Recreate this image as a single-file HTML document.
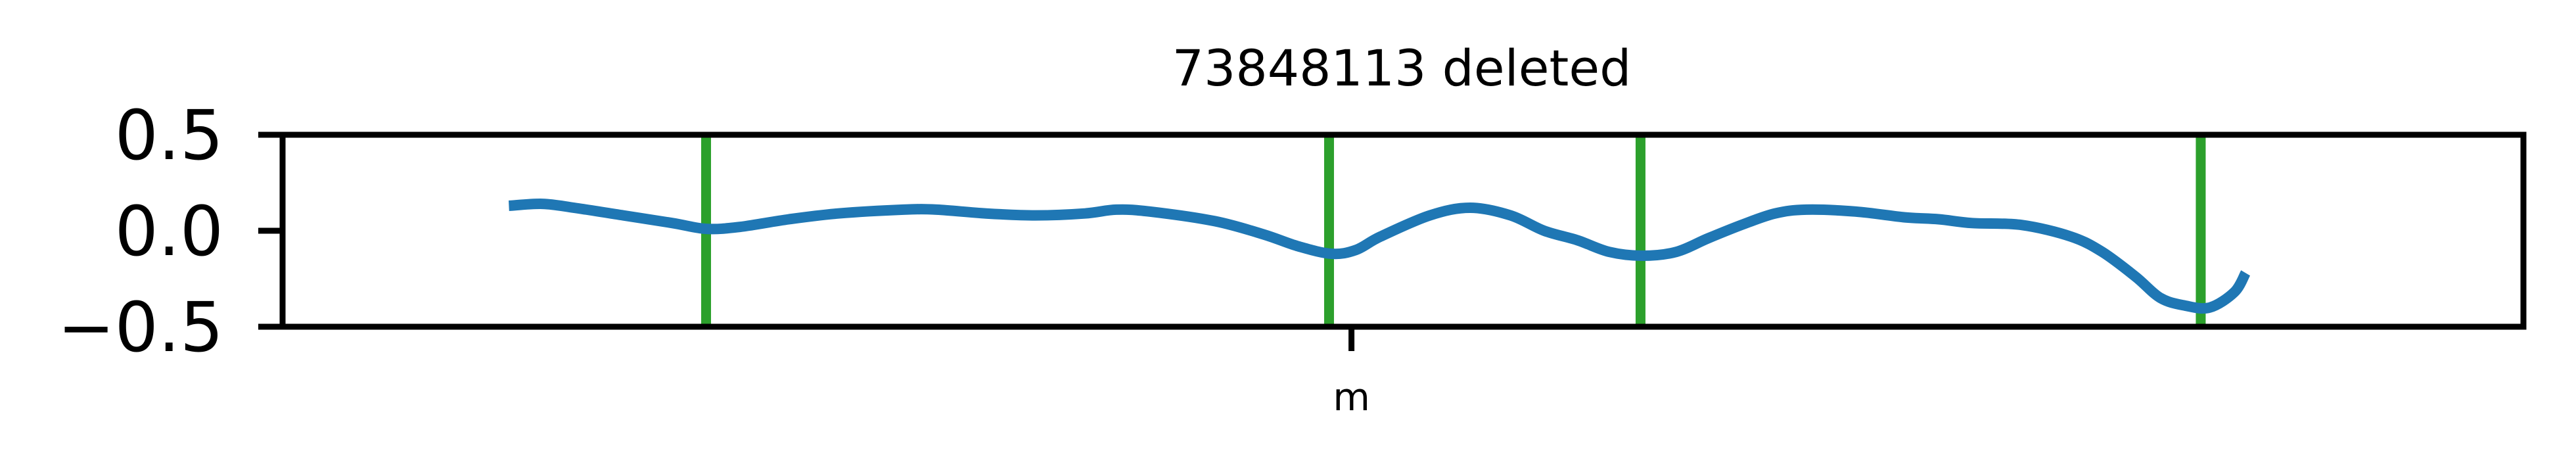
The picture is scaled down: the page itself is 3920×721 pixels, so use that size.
<!DOCTYPE html>
<html><head><meta charset="utf-8"><style>
html,body{margin:0;padding:0;background:#fff;}
svg{display:block;font-family:"DejaVu Sans","Liberation Sans",sans-serif;}
</style></head><body>
<svg id="chart" width="3920" height="721" viewBox="0 0 3920 721" xmlns="http://www.w3.org/2000/svg">
<rect width="3920" height="721" fill="#fff"/>
<text x="2133" y="130" font-size="76" text-anchor="middle">73848113 deleted</text>
<g id="plot"></g>
</svg>
<script>
const xs = [10.1,11.6,13.0,15.2,17.4,18.9,20.4,22.6,24.8,27.7,29.2,31.4,33.6,35.8,37.2,38.7,41.6,43.8,45.3,46.8,47.9,49.0,51.2,53.0,54.8,56.3,57.8,59.2,60.7,62.2,63.6,65.1,66.6,68.0,70.2,72.4,73.9,75.4,77.6,79.8,81.2,82.7,83.8,84.9,86.0,87.1,87.6];
const ys = [0.13,0.14,0.12,0.08,0.04,0.01,0.02,0.06,0.09,0.11,0.11,0.09,0.08,0.09,0.11,0.10,0.05,-0.02,-0.08,-0.12,-0.10,-0.03,0.08,0.12,0.08,0.00,-0.05,-0.11,-0.13,-0.11,-0.04,0.03,0.09,0.11,0.10,0.07,0.06,0.04,0.03,-0.03,-0.11,-0.24,-0.35,-0.39,-0.40,-0.32,-0.22];
const markers = [18.9,46.7,60.6,85.6];
const yTicks = [0.5,0.0,-0.5];
const yTickLabels = ["0.5","0.0","\u22120.5"];
const xTicks = [47.7];
const xTickLabels = ["m"];

const L=430,R=3840,T=205,B=497;
const X=v=>L+(v-0)/(100-0)*(R-L);
const Y=v=>B-(v-(-0.5))/(1)*(B-T);
const NS="http://www.w3.org/2000/svg";
const g=document.getElementById('plot');
function mk(tag,attrs){const e=document.createElementNS(NS,tag);for(const k in attrs)e.setAttribute(k,attrs[k]);g.appendChild(e);return e;}

markers.forEach((m,i)=>{
  const e=mk('line',{x1:X(m),x2:X(m),y1:T,y2:B,stroke:'#2ca02c','stroke-width':15});
  
  
});
const P=xs.map((x,i)=>[X(x),Y(ys[i])]);
let d='M'+P[0][0].toFixed(1)+' '+P[0][1].toFixed(1);
for(let i=0;i<P.length-1;i++){
  const p0=P[Math.max(0,i-1)],p1=P[i],p2=P[i+1],p3=P[Math.min(P.length-1,i+2)];
  const c1=[p1[0]+(p2[0]-p0[0])/6,p1[1]+(p2[1]-p0[1])/6];
  const c2=[p2[0]-(p3[0]-p1[0])/6,p2[1]-(p3[1]-p1[1])/6];
  d+='C'+c1[0].toFixed(1)+' '+c1[1].toFixed(1)+' '+c2[0].toFixed(1)+' '+c2[1].toFixed(1)+' '+p2[0].toFixed(1)+' '+p2[1].toFixed(1);
}
const line=mk('path',{d:d,fill:'none',stroke:'#1f77b4','stroke-width':16,'stroke-linejoin':'round'});



const frame=mk('rect',{x:L,y:T,width:R-L,height:B-T,fill:'none',stroke:'#000','stroke-width':9});



yTicks.forEach((t,i)=>{
  const tk=mk('line',{x1:L-37,x2:L,y1:Y(t),y2:Y(t),stroke:'#000','stroke-width':9});
  
  
  const tx=mk('text',{x:L-90,y:Y(t)+37,'font-size':104,'text-anchor':'end'});
  tx.textContent=yTickLabels[i];
  
  
});
xTicks.forEach((t,i)=>{
  const tk=mk('line',{x1:X(t),x2:X(t),y1:B,y2:B+37,stroke:'#000','stroke-width':9});
  
  
  const tx=mk('text',{x:X(t),y:624,'font-size':58,'text-anchor':'middle'});
  tx.textContent=xTickLabels[i];
  
  
});
</script>
</body></html>
